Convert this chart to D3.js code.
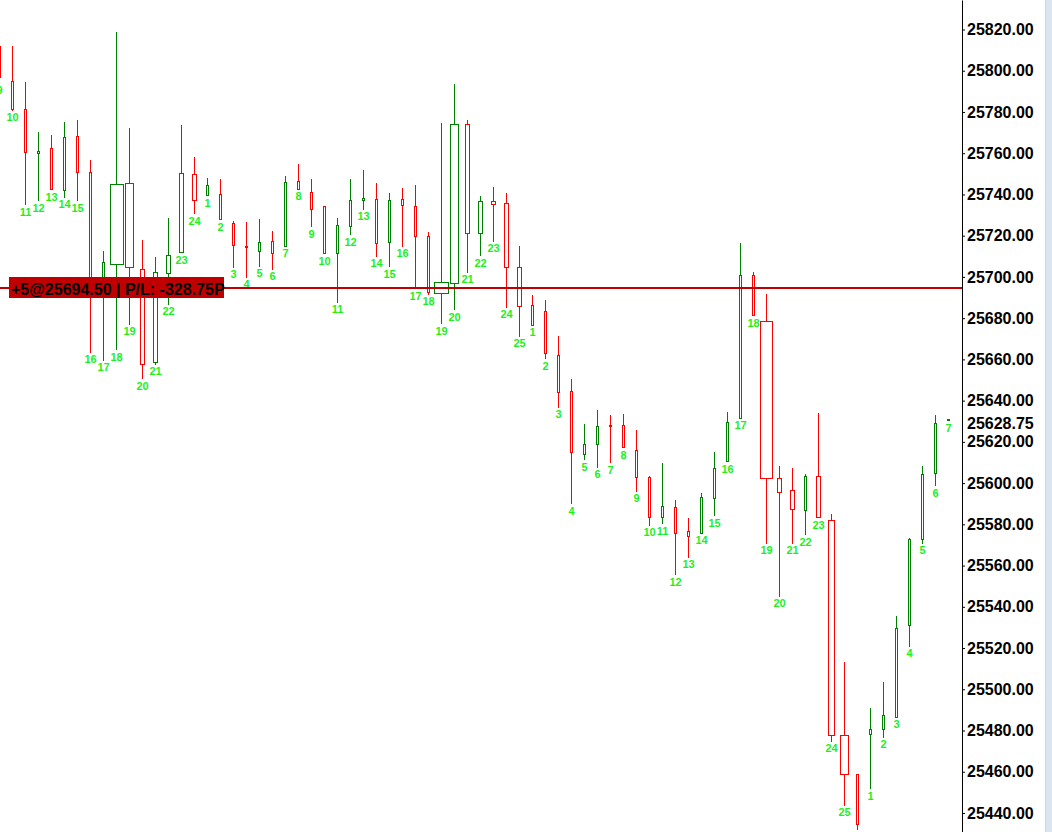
<!DOCTYPE html>
<html>
<head>
<meta charset="utf-8">
<script src="https://cdn.jsdelivr.net/npm/d3@7"></script>
<style>
  html, body { margin: 0; padding: 0; background: #ffffff; }
  svg { display: block; }
</style>
</head>
<body>
<svg id="chart" width="1052" height="832"></svg>
<script>
// ---------- data ----------
const barLabels = ["9","10","11","12","13","14","15","16","17","18","19","20","21","22","23","24",
  "1","2","3","4","5","6","7","8","9","10","11","12","13","14","15","16","17","18","19","20","21","22","23","24","25",
  "1","2","3","4","5","6","7","8","9","10","11","12","13","14","15","16","17","18","19","20","21","22","23","24","25","",
  "1","2","3","4","5","6","7"];

const openVals = [25812,25795,25781.25,25760,25762.5,25742,25768.25,25750.75,25693.5,25706.5,25745.5,25703.75,25658.5,25701.75,25712.25,25749.75,
  25739.5,25740,25726,25715,25712.75,25717.25,25715,25746.5,25741,25734.25,25711.75,25724.5,25737.25,25737.75,25717,25737.75,25734.5,25719.75,25692.25,25697,25774.25,25721.5,25736.75,25735.75,25704.75,
  25686.25,25683.25,25662,25644.5,25614,25618.75,25628.25,25628,25616,25602.75,25583.75,25588.5,25576.75,25576,25593,25610.5,25631.75,25701,25678.5,25602.5,25596.75,25586.75,25603.5,25582,25477.75,25458.75,
  25478.5,25480.5,25486.75,25531,25572.75,25604.75,25630.5];

const highVals = [25830,25812.5,25795,25770.75,25769.25,25775.5,25776.5,25757.25,25713,25819.25,25772.5,25718.25,25710,25729.25,25774.25,25758.5,
  25748.25,25747.75,25727.5,25727,25728.5,25722.75,25749.25,25755.25,25748,25734.75,25729,25748,25752.25,25746,25741.25,25743.5,25745,25722.25,25775,25794,25776.5,25739.5,25744,25741.25,25715.5,
  25691.75,25689.5,25671.75,25650.75,25629,25636,25633.5,25634,25626.25,25604,25610,25592.25,25583.75,25595.75,25615.5,25635,25717,25703,25692.25,25608.75,25607.75,25605,25634.5,25585.5,25513.75,25458.75,
  25491.5,25504,25536,25574,25608.75,25633.5,25631.5];

const lowVals = [25794.5,25781,25735.25,25737.25,25742.5,25739,25737.25,25663.75,25659.75,25665,25677.25,25650.75,25658,25687,25712,25731,
  25739.5,25728,25705,25700,25705.5,25704,25715,25742.75,25724.5,25711.5,25688,25720.75,25733,25710.25,25705.25,25715,25694.5,25691.75,25677.5,25684.25,25702.5,25710.5,25717.5,25685.5,25671.5,
  25676.75,25660.5,25637,25590.25,25611.5,25608,25610,25617.5,25596.25,25579.75,25580.5,25555.75,25564.25,25576,25584.5,25610.5,25631.75,25681.5,25571,25545.25,25571,25575.25,25583.5,25475,25444,25432,
  25452,25477,25486.75,25521,25571,25599,25630.5];

const closeVals = [25797,25781.5,25760.5,25761,25742.5,25768,25750.75,25693.5,25707,25745,25704.75,25658,25702.25,25710.5,25750.25,25737.25,
  25744.5,25728,25715.25,25714.5,25716.75,25711.5,25746,25742.75,25732.75,25711.5,25725,25737.25,25738.5,25716.5,25737.25,25734.75,25720,25692.75,25697.5,25774.25,25721.5,25736.75,25735.5,25704.75,25685.75,
  25676.75,25663,25644,25615,25618.75,25627.5,25627.5,25617.5,25603,25583.5,25589,25575.75,25574.25,25593.25,25607.25,25629.5,25701,25681.5,25602.25,25595.75,25587.25,25603.5,25583.5,25477.75,25458.75,25434.5,
  25480.75,25487.5,25529.5,25572.75,25604.25,25629,25631];

// relative bar volume (drives body width)
const volumeUnits = [3,3,3,3,3,3,3,3,3,14,9,5,5,5,5,5,
  3,3,3,3,3,3,3,3,3,3,3,3,3,3,3,3,3,3,15,9,5,5,5,5,5,
  3,3,3,3,3,3,3,3,3,3,3,3,3,3,3,3,3,3,13,5,5,3,5,7,9,3,
  3,3,3,3,3,3,3];

const axisTicks = [25820,25800,25780,25760,25740,25720,25700,25680,25660,25640,25620,25600,25580,25560,25540,25520,25500,25480,25460,25440];
const lastPrice = 25628.75;
const positionPrice = 25694.50;
const positionText = "+5@25694.50 | P/L: -328.75P";

// ---------- drawing ----------
const W = 1052, H = 832;
const svg = d3.select("#chart");
const upColor = "#008000", downColor = "#ff0000", labelColor = "#1cf01c";

const x = d3.scaleLinear().domain([1, 73]).range([12.33, 948.33]);
const y = d3.scaleLinear().domain([25834.31, 25430.78]).range([0, H]);
const wScale = d3.scaleLinear().domain([0, 15]).range([0, 15]);

const bars = barLabels.map((lab, i) => ({
  i, lab, o: openVals[i], h: highVals[i], l: lowVals[i], c: closeVals[i], v: volumeUnits[i]
}));

const plot = svg.append("g");
const snap = v => Math.round(v) + 0.5;

const candle = plot.selectAll("g.candle").data(bars).join("g").attr("class", "candle");
candle.each(function(d) {
  const g = d3.select(this);
  const col = d.c >= d.o ? upColor : downColor;
  const cx = Math.round(x(d.i));
  const bw = Math.round(wScale(d.v));
  const half = Math.floor((bw - 1) / 2);
  g.append("line")
    .attr("x1", cx + 0.5).attr("x2", cx + 0.5)
    .attr("y1", snap(y(d.h))).attr("y2", snap(y(d.l)))
    .attr("stroke", col).attr("stroke-width", 1).attr("shape-rendering", "crispEdges");
  const top = snap(y(Math.max(d.o, d.c)));
  const bot = snap(y(Math.min(d.o, d.c)));
  g.append("rect")
    .attr("x", cx - half + 0.5).attr("width", bw - 1)
    .attr("y", top).attr("height", Math.max(0, bot - top))
    .attr("fill", "#ffffff").attr("stroke", col).attr("stroke-width", 1)
    .attr("shape-rendering", "crispEdges");
  if (d.lab) {
    g.append("text")
      .attr("x", cx + 0.5).attr("y", y(d.l) + 11.5)
      .attr("text-anchor", "middle")
      .attr("font-family", "'Liberation Sans', Arial, sans-serif")
      .attr("font-weight", "bold").attr("font-size", 11)
      .attr("fill", labelColor)
      .text(d.lab);
  }
});

// position line + label
const py = Math.round(y(positionPrice));
svg.append("line")
  .attr("x1", 0).attr("x2", 962).attr("y1", py).attr("y2", py)
  .attr("stroke", "#c00000").attr("stroke-width", 2).attr("shape-rendering", "crispEdges");
svg.append("rect")
  .attr("x", 9).attr("y", py - 11).attr("width", 215).attr("height", 21)
  .attr("fill", "#c00000");
svg.append("text")
  .attr("x", 11).attr("y", py + 6.7)
  .attr("font-family", "'Liberation Sans', Arial, sans-serif")
  .attr("font-weight", "bold").attr("font-size", 16)
  .attr("fill", "#000000")
  .text(positionText);

// right axis
svg.append("rect").attr("x", 963).attr("y", 0).attr("width", 83).attr("height", H).attr("fill", "#ffffff");
const axisG = svg.append("g").attr("transform", "translate(962,0)")
  .call(d3.axisRight(y).tickValues(axisTicks).tickFormat(d3.format(".2f")).tickSize(3).tickSizeOuter(0).tickPadding(2));
axisG.selectAll("path.domain").attr("stroke", "#000000");
axisG.selectAll(".tick line").attr("stroke", "#000000");
axisG.selectAll(".tick text")
  .attr("font-family", "'Liberation Sans', Arial, sans-serif")
  .attr("font-weight", "bold").attr("font-size", 16).attr("fill", "#000000");
axisG.append("text")
  .attr("x", 5).attr("y", y(lastPrice)).attr("dy", "0.32em")
  .attr("font-family", "'Liberation Sans', Arial, sans-serif")
  .attr("font-weight", "bold").attr("font-size", 16).attr("fill", "#000000")
  .text(d3.format(".2f")(lastPrice));

// right edge strip
svg.append("rect").attr("x", 1046).attr("y", 0).attr("width", 6).attr("height", H).attr("fill", "#dbe5f1");
svg.append("line").attr("x1", 1045.5).attr("x2", 1045.5).attr("y1", 0).attr("y2", H).attr("stroke", "#d4d8dc");
</script>
</body>
</html>
